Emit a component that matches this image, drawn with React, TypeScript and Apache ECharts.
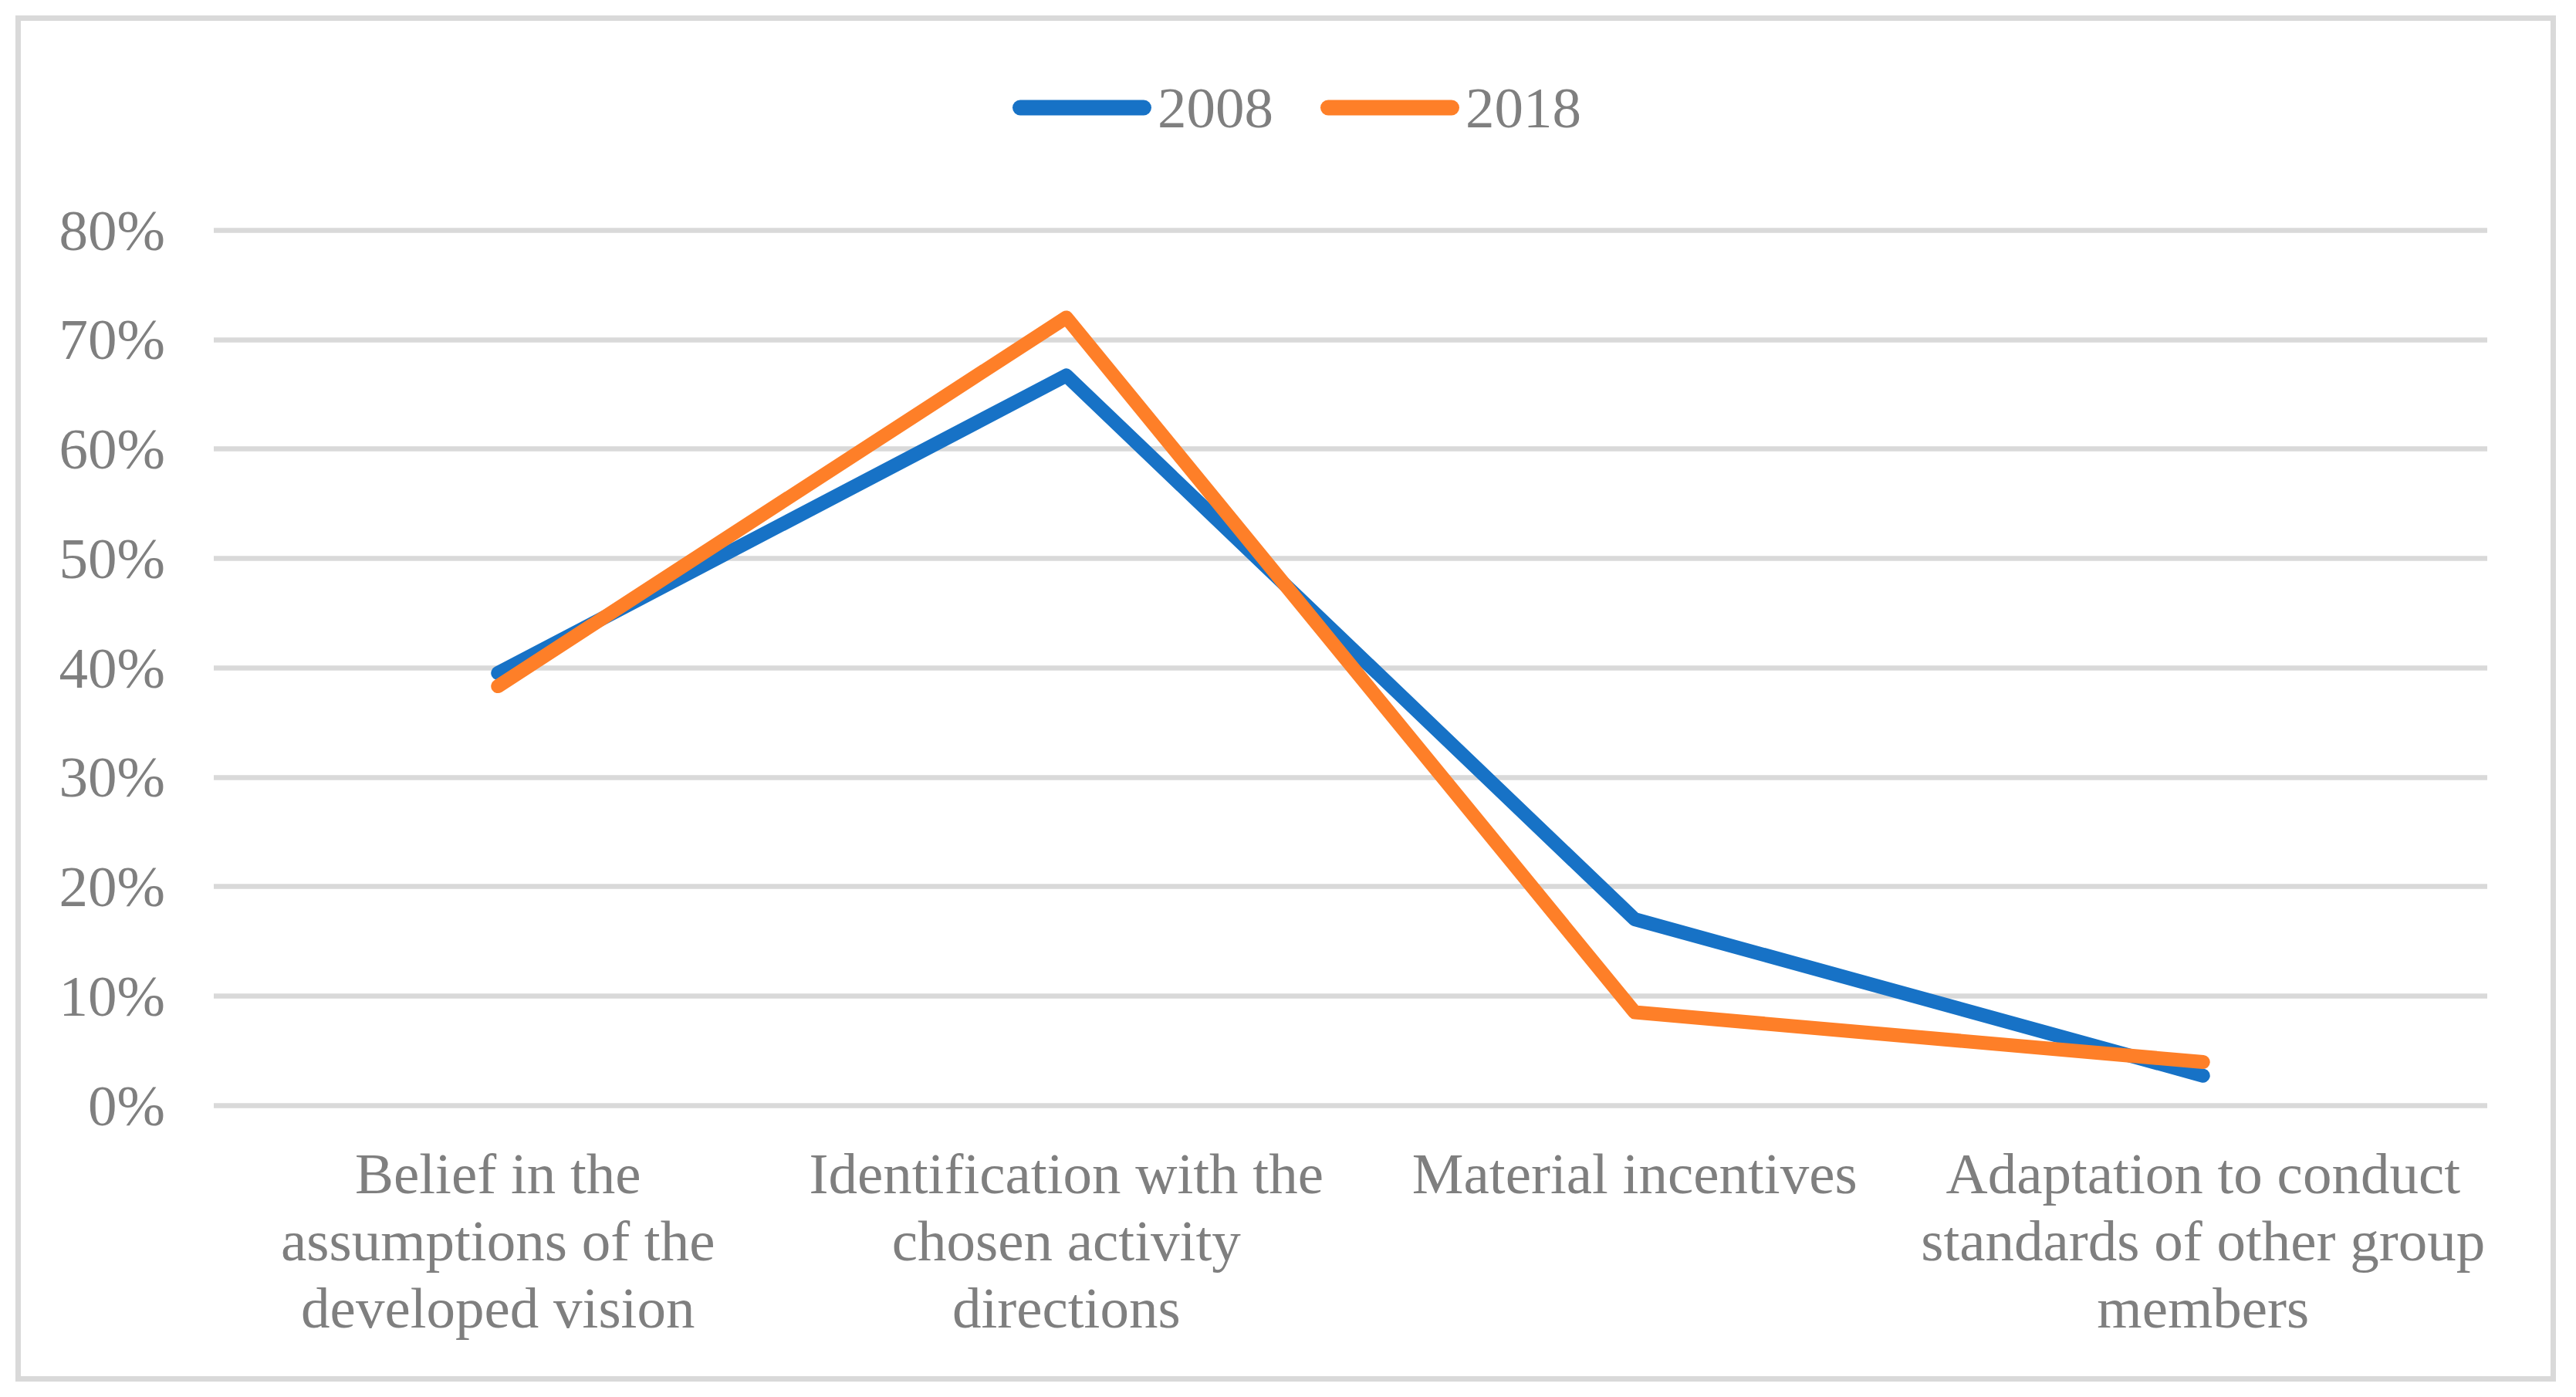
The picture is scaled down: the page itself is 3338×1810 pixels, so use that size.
import React, { useEffect, useRef } from "react";
import * as echarts from "echarts";

const categories = [
  "Belief in the\nassumptions of the\ndeveloped vision",
  "Identification with the\nchosen activity\ndirections",
  "Material incentives",
  "Adaptation to conduct\nstandards of other group\nmembers",
];
const seriesNames = ["2008", "2018"];
const values2008 = [39.5, 66.7, 17.0, 2.7];
const values2018 = [38.3, 72.0, 8.5, 3.95];
const yMin = 0;
const yMax = 80;
const yStep = 10;

const FONT = "'Liberation Serif', 'Times New Roman', serif";
const TEXT = "#7f7f7f";
const GRID = "#d9d9d9";
const BLUE = "#1772c6";
const ORANGE = "#fe7f28";
const LEG_ICON = "path://M10 0H170A10 10 0 0 1 170 20H10A10 10 0 0 1 10 0Z";

export default function App() {
  const ref = useRef<HTMLDivElement>(null);
  useEffect(() => {
    if (!ref.current) return;
    const chart = echarts.init(ref.current, undefined, { renderer: "svg" });
    chart.setOption({
      animation: false,
      backgroundColor: "#ffffff",
      textStyle: { fontFamily: FONT },
      graphic: [
        {
          type: "rect",
          shape: { x: 23.5, y: 23.5, width: 3285, height: 1763 },
          style: { fill: "none", stroke: GRID, lineWidth: 7 },
          silent: true,
        },
      ],
      legend: {
        left: 1307,
        top: 97,
        itemWidth: 180,
        itemHeight: 20,
        itemGap: 61,
        textStyle: { fontFamily: FONT, fontSize: 75, color: TEXT, padding: [0, 0, 0, 3] },
        data: [
          { name: seriesNames[0], icon: LEG_ICON, itemStyle: { color: BLUE } },
          { name: seriesNames[1], icon: LEG_ICON, itemStyle: { color: ORANGE } },
        ],
      },
      grid: { left: 277, right: 115, top: 298, bottom: 378, containLabel: false },
      xAxis: {
        type: "category",
        data: categories,
        boundaryGap: true,
        axisLine: { show: false },
        axisTick: { show: false },
        axisLabel: {
          interval: 0,
          margin: 45,
          fontFamily: FONT,
          fontSize: 75,
          lineHeight: 87,
          color: TEXT,
          align: "center",
        },
      },
      yAxis: {
        type: "value",
        min: yMin,
        max: yMax,
        interval: yStep,
        axisLine: { show: false },
        axisTick: { show: false },
        axisLabel: {
          formatter: "{value}%",
          margin: 63,
          fontFamily: FONT,
          fontSize: 75,
          color: TEXT,
        },
        splitLine: { show: true, lineStyle: { color: GRID, width: 6.5 } },
      },
      series: [
        {
          name: seriesNames[0],
          type: "line",
          data: values2008,
          symbol: "none",
          color: BLUE,
          lineStyle: { color: BLUE, width: 18, cap: "round", join: "round" },
        },
        {
          name: seriesNames[1],
          type: "line",
          data: values2018,
          symbol: "none",
          color: ORANGE,
          lineStyle: { color: ORANGE, width: 18, cap: "round", join: "round" },
        },
      ],
    });
    return () => chart.dispose();
  }, []);
  return (
    <div
      ref={ref}
      style={{ position: "fixed", left: 0, top: 0, width: 3338, height: 1810 }}
    />
  );
}
